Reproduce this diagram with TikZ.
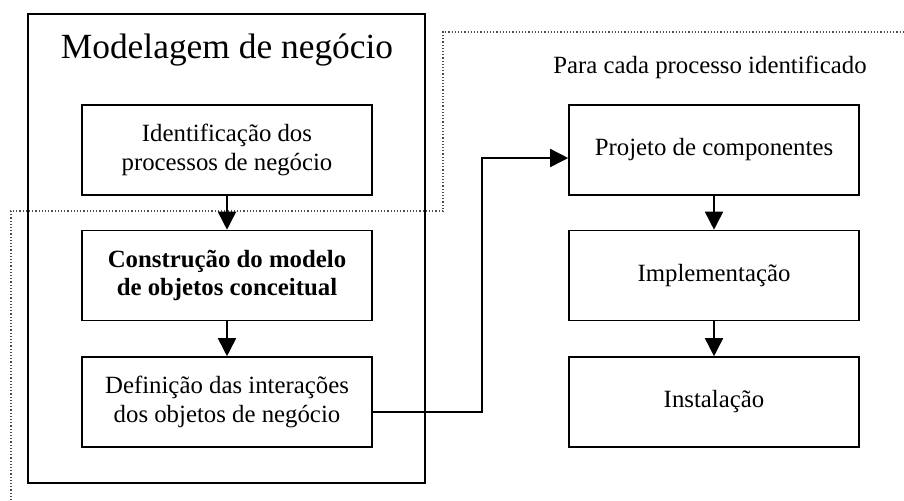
\documentclass[tikz,border=0pt]{standalone}
\usepackage{fontspec}
\setmainfont{Liberation Serif}
\usetikzlibrary{arrows.meta, positioning}

\begin{document}
\begin{tikzpicture}[x=0.5pt, y=-0.5pt,
    etapa/.style={draw, line width=0.8pt, minimum width=145pt, minimum height=45pt,
        align=center, inner sep=2pt, font=\fontsize{12.4}{14.2}\selectfont},
    seta/.style={-{Triangle[length=9pt,width=9pt]}, line width=0.8pt}]
    \useasboundingbox (0,0) rectangle (904,500);

    % Limite do processo
    \draw[densely dotted, gray!60!black, line width=0.6pt] (904,32) -- (443,32) -- (443,211) -- (11,211) -- (11,500);

    % Modelagem de negocio
    \node[draw, line width=1pt, minimum width=198.5pt, minimum height=234.5pt] (modelagem) at (226.5,248.5) {};
    \node[font=\fontsize{17.7}{20}\selectfont] (titulo) at (227,50) {Modelagem de negócio};
    \node[etapa] (ident) at (227,150) {Identificação dos\\processos de negócio};
    \node[etapa, font=\fontsize{12.4}{14.2}\selectfont\bfseries] (constr) at (227,275.5) {Construção do modelo\\de objetos conceitual};
    \node[etapa] (defin) at (227,402) {Definição das interações\\dos objetos de negócio};

    % Para cada processo
    \node[font=\fontsize{12.4}{14.2}\selectfont] (rotulo) at (710,67) {Para cada processo identificado};
    \node[etapa] (projeto) at (714,150) {Projeto de componentes};
    \node[etapa] (implem) at (714,275.5) {Implementação};
    \node[etapa] (instal) at (714,402) {Instalação};

    % Setas
    \draw[seta] (ident) -- (constr);
    \draw[seta] (constr) -- (defin);
    \draw[seta] (projeto) -- (implem);
    \draw[seta] (implem) -- (instal);
    \draw[seta] ([yshift=-5pt]defin.east) -- ++(109,0) |- ([yshift=-4pt]projeto.west);
\end{tikzpicture}
\end{document}
